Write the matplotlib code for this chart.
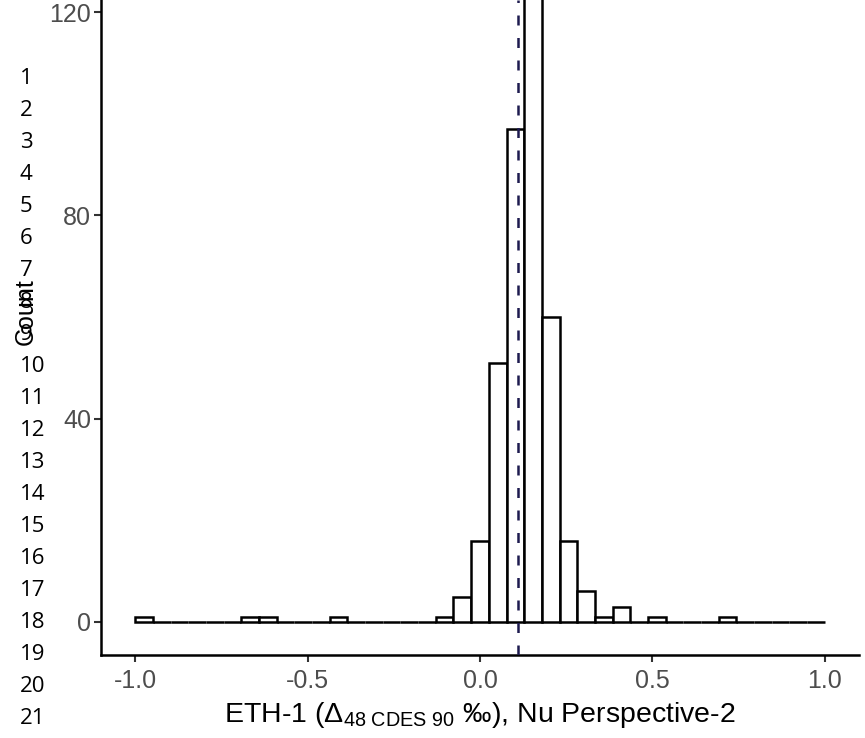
import numpy as np
import matplotlib.pyplot as plt

plt.rcParams['font.family'] = ['Liberation Sans', 'DejaVu Sans']
plt.rcParams['mathtext.fontset'] = 'custom'
plt.rcParams['mathtext.rm'] = 'Liberation Sans'
plt.rcParams['mathtext.it'] = 'Liberation Sans:italic'

# histogram: 39 bins spanning -1..1
bin_edges = np.linspace(-1.0, 1.0, 40)
counts = [1, 0, 0, 0, 0, 0, 1, 1, 0, 0,
          0, 1, 0, 0, 0, 0, 0, 1, 5, 16,
          51, 97, 150, 60, 16, 6, 1, 3, 0, 1,
          0, 0, 0, 1, 0, 0, 0, 0, 0]
mean_value = 0.11
x_ticks = [-1.0, -0.5, 0.0, 0.5, 1.0]
y_ticks = [0, 40, 80, 120]
line_numbers = list(range(1, 22))

W, H = 865, 738
fig = plt.figure(figsize=(W / 100, H / 100), dpi=100)
ax = fig.add_axes([101 / W, 1 - 655 / H, 758 / W, 655 / H])

widths = np.diff(bin_edges)
ax.bar(bin_edges[:-1], counts, width=widths, align='edge',
       facecolor='white', edgecolor='black', linewidth=1.8, zorder=2)
ax.axvline(mean_value, color='#1d1a4f', linewidth=1.8,
           linestyle=(0, (4, 5)), zorder=3)

ax.set_xlim(-1.1, 1.1)
ax.set_ylim(-6.5, 622 / 5.083)
ax.set_xticks(x_ticks)
ax.set_xticklabels([f"{v:.1f}" for v in x_ticks])
ax.set_yticks(y_ticks)
ax.set_yticklabels([str(v) for v in y_ticks])

for side in ['top', 'right']:
    ax.spines[side].set_visible(False)
for side in ['left', 'bottom']:
    ax.spines[side].set_linewidth(1.8)
ax.tick_params(axis='both', length=5, width=1.5, color='#333333',
               labelsize=18, labelcolor='#4d4d4d')
ax.tick_params(axis='y', pad=2)
ax.tick_params(axis='x', pad=5)

ax.set_xlabel(r'ETH-1 ($\mathrm{Δ}_{\mathrm{48\ CDES\ 90}}$ ‰), Nu Perspective-2',
              fontsize=20.5, labelpad=5)

# y label sits over the line numbers
fig.text(26 / W, 1 - 312 / H, 'Count', rotation=90, ha='center', va='center',
         fontsize=18, color='black')

for n in line_numbers:
    fig.text(20 / W, 1 - (78.3 + (n - 1) * 32.0) / H, str(n),
             ha='left', va='center', fontsize=16, family='Open Sans',
             color='black')

fig.savefig('out.png', dpi=100)
